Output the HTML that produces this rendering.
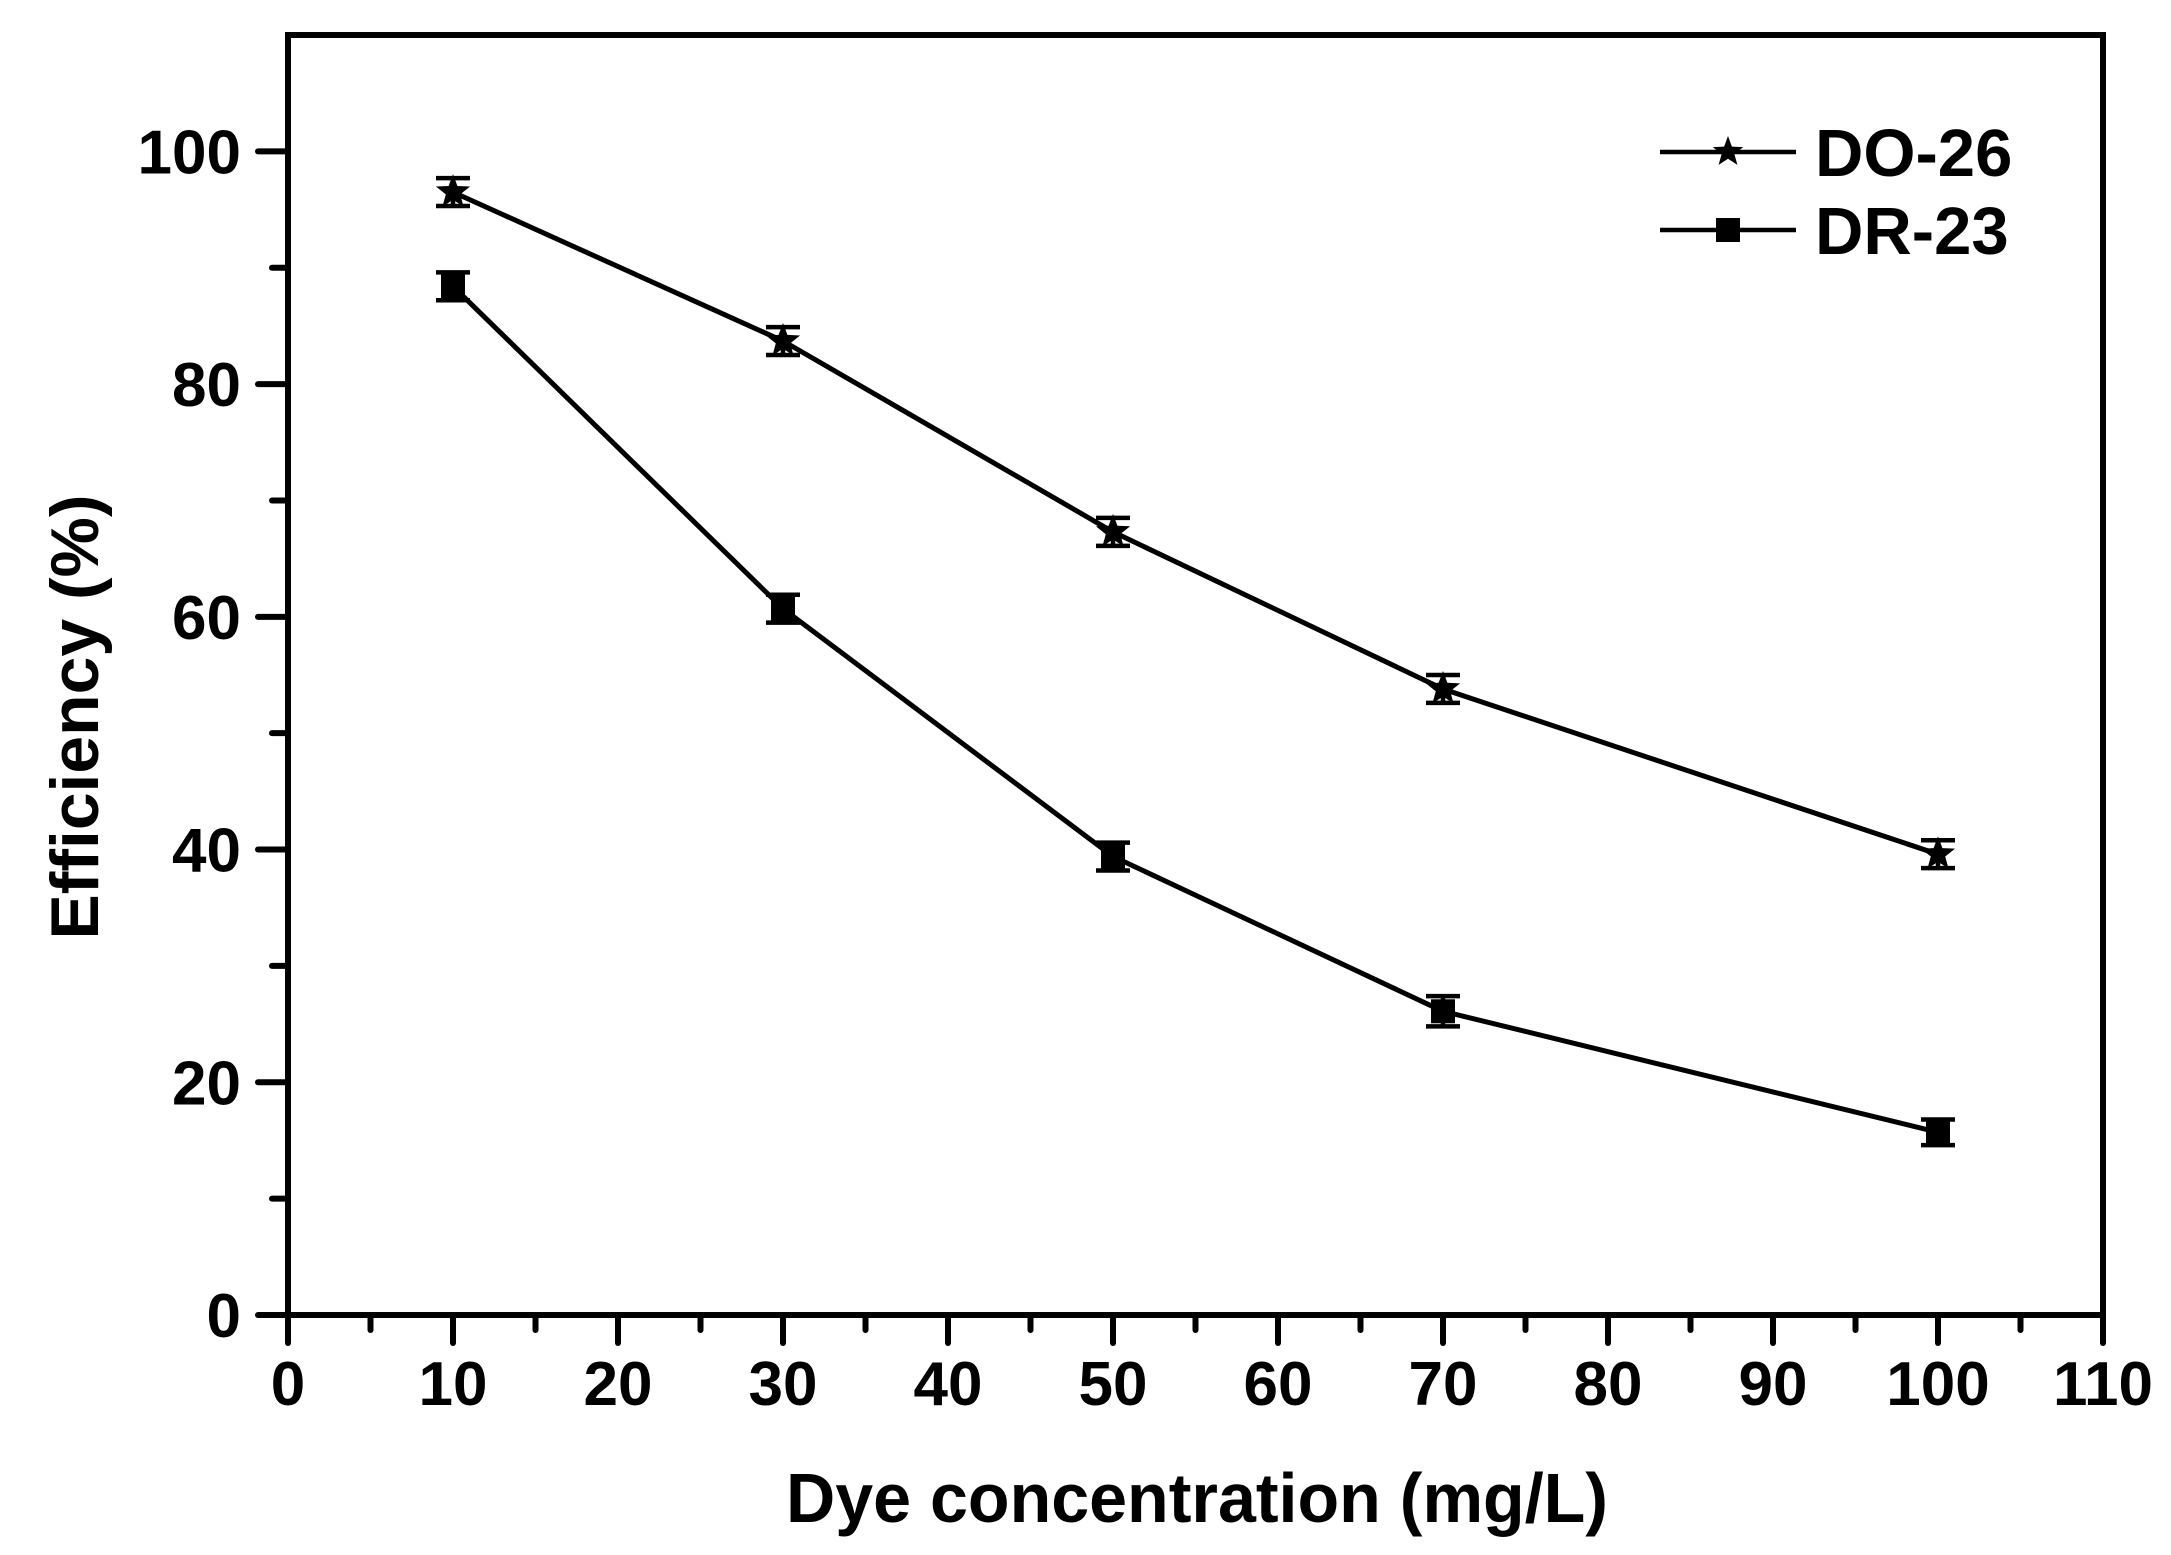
<!DOCTYPE html>
<html><head><meta charset="utf-8"><style>
html,body{margin:0;padding:0;background:#fff}
svg{display:block}
text{font-family:"Liberation Sans",Arial,sans-serif;font-weight:bold;fill:#000}
</style></head><body>
<svg id="chart" width="2171" height="1555" viewBox="0 0 2171 1555" xmlns="http://www.w3.org/2000/svg">
<g id="axes"></g>
<g id="series"></g>
<g id="legend"></g>
<text x="1197" y="1522" font-size="70" text-anchor="middle" textLength="822" lengthAdjust="spacingAndGlyphs">Dye concentration (mg/L)</text>
<text transform="translate(98,717) rotate(-90)" font-size="68" text-anchor="middle" textLength="445" lengthAdjust="spacingAndGlyphs">Efficiency (%)</text>
</svg>
<script>
const categories = [10, 30, 50, 70, 100];
const do26 = [96.5, 83.7, 67.3, 53.8, 39.6];
const dr23 = [88.4, 60.7, 39.4, 26.1, 15.7];
const do26Err = [1.2, 1.2, 1.2, 1.2, 1.2];
const dr23Err = [1.2, 1.2, 1.2, 1.3, 1.1];
const xTicks = [0, 10, 20, 30, 40, 50, 60, 70, 80, 90, 100, 110];
const yTicks = [0, 20, 40, 60, 80, 100];

const NS = "http://www.w3.org/2000/svg";
const X0 = 288, X1 = 2103, Y0 = 1315, Y1 = 35;
const xMin = 0, xMax = 110, yMin = 0, yMax = 110;
function sx(v){ return X0 + (v - xMin) / (xMax - xMin) * (X1 - X0); }
function sy(v){ return Y0 - (v - yMin) / (yMax - yMin) * (Y0 - Y1); }
function mk(tag, attrs, parent){
  const e = document.createElementNS(NS, tag);
  for (const k in attrs) e.setAttribute(k, attrs[k]);
  parent.appendChild(e);
  return e;
}
const axes = document.getElementById('axes');
const series = document.getElementById('series');
const legend = document.getElementById('legend');

let frame = mk('rect', {x: X0, y: Y1, width: X1 - X0, height: Y0 - Y1, fill: 'none', stroke: '#000', 'stroke-width': 6}, axes);



xTicks.forEach((t, i) => {
  const x = sx(t);
  let tk = mk('line', {x1: x, x2: x, y1: Y0, y2: Y0 + 28, stroke: '#000', 'stroke-width': 6, 'stroke-linecap': 'round'}, axes);
  
  
  let lb = mk('text', {x: x, y: 1405, 'font-size': 62, 'text-anchor': 'middle'}, axes);
  lb.textContent = t;
  
  
  if (i < xTicks.length - 1) {
    const xm = sx(t + (xTicks[1] - xTicks[0]) / 2);
    let mt = mk('line', {x1: xm, x2: xm, y1: Y0, y2: Y0 + 15, stroke: '#000', 'stroke-width': 6, 'stroke-linecap': 'round'}, axes);
    
    
  }
});
yTicks.forEach((t, i) => {
  const y = sy(t);
  let tk = mk('line', {x1: X0, x2: X0 - 30, y1: y, y2: y, stroke: '#000', 'stroke-width': 6, 'stroke-linecap': 'round'}, axes);
  
  
  let lb = mk('text', {x: 241, y: y + 22, 'font-size': 62, 'text-anchor': 'end'}, axes);
  lb.textContent = t;
  
  
  const ym = sy(t + (yTicks[1] - yTicks[0]) / 2);
  if (ym > Y1) {
    let mt = mk('line', {x1: X0, x2: X0 - 16, y1: ym, y2: ym, stroke: '#000', 'stroke-width': 6, 'stroke-linecap': 'round'}, axes);
    
    
  }
});

function starPath(cx, cy, R){
  const r = R * 0.42; let d = '';
  for (let i = 0; i < 10; i++) {
    const a = -Math.PI / 2 + i * Math.PI / 5;
    const rr = i % 2 ? r : R;
    d += (i ? 'L' : 'M') + (cx + rr * Math.cos(a)).toFixed(1) + ' ' + (cy + rr * Math.sin(a)).toFixed(1);
  }
  return d + 'Z';
}
function marker(kind, cx, cy, size, parent, name){
  let m;
  if (kind === 'star') m = mk('path', {d: starPath(cx, cy, size), fill: '#000'}, parent);
  else m = mk('rect', {x: cx - size, y: cy - size, width: size * 2, height: size * 2, fill: '#000'}, parent);
  
  
}
function drawSeries(vals, errs, kind, name){
  const g = mk('g', {}, series);
  
  
  const pts = vals.map((v, i) => sx(categories[i]).toFixed(1) + ',' + sy(v).toFixed(1)).join(' ');
  let pl = mk('polyline', {points: pts, fill: 'none', stroke: '#000', 'stroke-width': 5, 'stroke-linejoin': 'round'}, g);
  
  
  vals.forEach((v, i) => {
    const x = sx(categories[i]);
    const yt = sy(v + errs[i]), yb = sy(v - errs[i]);
    let eb = mk('path', {d: `M${x} ${yt}V${yb}M${x-17} ${yt}H${x+17}M${x-17} ${yb}H${x+17}`, stroke: '#000', 'stroke-width': 4.5, fill: 'none'}, g);
    
    
    marker(kind, x, sy(v), kind === 'star' ? 18 : 12, g, name + '-point');
  });
}
drawSeries(do26, do26Err, 'star', 'do-26');
drawSeries(dr23, dr23Err, 'square', 'dr-23');

[['star', 'DO-26', 152], ['square', 'DR-23', 230]].forEach(([kind, label, y]) => {
  const g = mk('g', {}, legend);
  
  
  let ln = mk('line', {x1: 1660, x2: 1796, y1: y, y2: y, stroke: '#000', 'stroke-width': 4.5}, g);
  
  
  marker(kind, 1728, y, kind === 'star' ? 16 : 12, g, 'legend-marker');
  let t = mk('text', {x: 1815, y: y + 24, 'font-size': 67}, g);
  t.textContent = label;
  
  
});
</script>
</body></html>
